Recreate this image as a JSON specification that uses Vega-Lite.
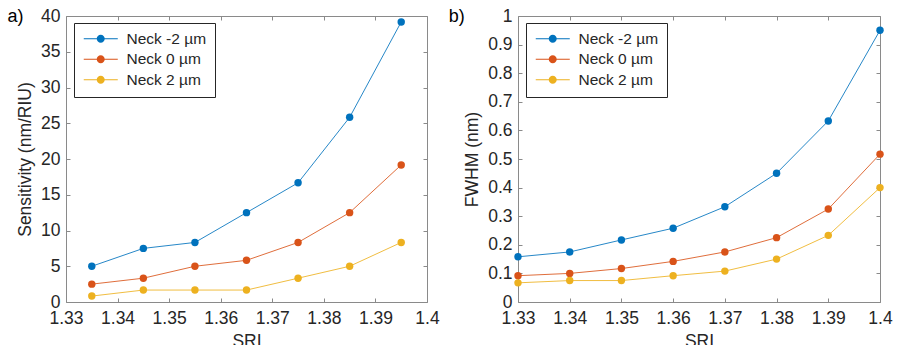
{
  "$schema": "https://vega.github.io/schema/vega-lite/v6.json",
  "padding": {"left": 7, "top": 6, "right": 0, "bottom": 0},
  "background": "white",
  "config": {
    "font": "Liberation Sans",
    "view": {"stroke": "#8a8a8a", "strokeWidth": 1},
    "axis": {
      "domain": false,
      "grid": false,
      "tickColor": "#8a8a8a",
      "tickSize": -4,
      "labelFontSize": 17.5,
      "labelColor": "#262626",
      "titleFontSize": 17.5,
      "titleFontWeight": "normal",
      "titleColor": "#262626"
    },
    "axisX": {"labelPadding": 11, "titlePadding": 6},
    "axisY": {"labelPadding": 10, "titlePadding": 6},
    "legend": {
      "orient": "none",
      "legendX": 8,
      "legendY": 7,
      "strokeColor": "#262626",
      "fillColor": "white",
      "padding": 8,
      "symbolType": "M-1,-0.08H4.67V0.08H-1Z M2.5,0A0.67,0.67,0,1,1,1.16,0A0.67,0.67,0,1,1,2.5,0Z",
      "symbolSize": 144,
      "symbolStrokeWidth": 0,
      "symbolOpacity": 1,
      "labelOffset": 29,
      "labelFontSize": 15.5,
      "labelColor": "#262626",
      "rowPadding": 3.5
    },
    "title": {
      "fontSize": 18,
      "fontWeight": "normal",
      "color": "#000000",
      "anchor": "start",
      "frame": "bounds",
      "offset": -19
    }
  },
  "datasets": {
    "sensitivity": [
      {"sri": 1.335, "series": "Neck -2 µm", "value": 5},
      {"sri": 1.345, "series": "Neck -2 µm", "value": 7.5},
      {"sri": 1.355, "series": "Neck -2 µm", "value": 8.33},
      {"sri": 1.365, "series": "Neck -2 µm", "value": 12.5},
      {"sri": 1.375, "series": "Neck -2 µm", "value": 16.67},
      {"sri": 1.385, "series": "Neck -2 µm", "value": 25.83},
      {"sri": 1.395, "series": "Neck -2 µm", "value": 39.17},
      {"sri": 1.335, "series": "Neck 0 µm", "value": 2.5},
      {"sri": 1.345, "series": "Neck 0 µm", "value": 3.33},
      {"sri": 1.355, "series": "Neck 0 µm", "value": 5},
      {"sri": 1.365, "series": "Neck 0 µm", "value": 5.83},
      {"sri": 1.375, "series": "Neck 0 µm", "value": 8.33},
      {"sri": 1.385, "series": "Neck 0 µm", "value": 12.5},
      {"sri": 1.395, "series": "Neck 0 µm", "value": 19.17},
      {"sri": 1.335, "series": "Neck 2 µm", "value": 0.83},
      {"sri": 1.345, "series": "Neck 2 µm", "value": 1.67},
      {"sri": 1.355, "series": "Neck 2 µm", "value": 1.67},
      {"sri": 1.365, "series": "Neck 2 µm", "value": 1.67},
      {"sri": 1.375, "series": "Neck 2 µm", "value": 3.33},
      {"sri": 1.385, "series": "Neck 2 µm", "value": 5},
      {"sri": 1.395, "series": "Neck 2 µm", "value": 8.33}
    ],
    "fwhm": [
      {"sri": 1.33, "series": "Neck -2 µm", "value": 0.158},
      {"sri": 1.34, "series": "Neck -2 µm", "value": 0.175},
      {"sri": 1.35, "series": "Neck -2 µm", "value": 0.217},
      {"sri": 1.36, "series": "Neck -2 µm", "value": 0.258},
      {"sri": 1.37, "series": "Neck -2 µm", "value": 0.333},
      {"sri": 1.38, "series": "Neck -2 µm", "value": 0.45},
      {"sri": 1.39, "series": "Neck -2 µm", "value": 0.633},
      {"sri": 1.4, "series": "Neck -2 µm", "value": 0.95},
      {"sri": 1.33, "series": "Neck 0 µm", "value": 0.092},
      {"sri": 1.34, "series": "Neck 0 µm", "value": 0.1},
      {"sri": 1.35, "series": "Neck 0 µm", "value": 0.117},
      {"sri": 1.36, "series": "Neck 0 µm", "value": 0.142},
      {"sri": 1.37, "series": "Neck 0 µm", "value": 0.175},
      {"sri": 1.38, "series": "Neck 0 µm", "value": 0.225},
      {"sri": 1.39, "series": "Neck 0 µm", "value": 0.325},
      {"sri": 1.4, "series": "Neck 0 µm", "value": 0.517},
      {"sri": 1.33, "series": "Neck 2 µm", "value": 0.067},
      {"sri": 1.34, "series": "Neck 2 µm", "value": 0.075},
      {"sri": 1.35, "series": "Neck 2 µm", "value": 0.075},
      {"sri": 1.36, "series": "Neck 2 µm", "value": 0.092},
      {"sri": 1.37, "series": "Neck 2 µm", "value": 0.108},
      {"sri": 1.38, "series": "Neck 2 µm", "value": 0.15},
      {"sri": 1.39, "series": "Neck 2 µm", "value": 0.233},
      {"sri": 1.4, "series": "Neck 2 µm", "value": 0.4}
    ]
  },
  "spacing": 8,
  "resolve": {"scale": {"color": "independent"}, "legend": {"color": "independent"}},
  "hconcat": [
    {
      "title": {"text": "a)", "dx": -9},
      "width": 361,
      "height": 286,
      "data": {"name": "sensitivity"},
      "layer": [
        {
          "mark": {"type": "point", "opacity": 0},
          "encoding": {
            "x": {"field": "sri", "type": "quantitative",
                  "scale": {"domain": [1.33, 1.4], "nice": false, "zero": false},
                  "axis": {"orient": "top", "labels": false, "title": null, "values": [1.33, 1.34, 1.35, 1.36, 1.37, 1.38, 1.39, 1.4]}},
            "y": {"field": "value", "type": "quantitative",
                  "scale": {"domain": [0, 40], "nice": false},
                  "axis": {"orient": "right", "labels": false, "title": null, "values": [0, 5, 10, 15, 20, 25, 30, 35, 40]}}
          }
        },
        {
          "encoding": {
            "x": {"field": "sri", "type": "quantitative", "title": "SRI",
                  "scale": {"domain": [1.33, 1.4], "nice": false, "zero": false},
                  "axis": {"orient": "bottom", "values": [1.33, 1.34, 1.35, 1.36, 1.37, 1.38, 1.39, 1.4], "labelExpr": "format(datum.value, '.2~f')", "labelFlush": false}},
            "y": {"field": "value", "type": "quantitative", "title": "Sensitivity (nm/RIU)",
                  "scale": {"domain": [0, 40], "nice": false},
                  "axis": {"orient": "left", "values": [0, 5, 10, 15, 20, 25, 30, 35, 40]}},
            "color": {"field": "series", "type": "nominal", "legend": {"title": null},
                      "scale": {"domain": ["Neck -2 µm", "Neck 0 µm", "Neck 2 µm"], "range": ["#0072BD", "#D95319", "#EDB120"]}}
          },
          "layer": [
            {"mark": {"type": "point", "filled": true, "size": 55, "opacity": 1}},
            {"mark": {"type": "line", "strokeWidth": 1, "opacity": 0.85}}
          ]
        }
      ]
    },
    {
      "title": {"text": "b)", "dx": -15},
      "width": 362,
      "height": 286,
      "data": {"name": "fwhm"},
      "layer": [
        {
          "mark": {"type": "point", "opacity": 0},
          "encoding": {
            "x": {"field": "sri", "type": "quantitative",
                  "scale": {"domain": [1.33, 1.4], "nice": false, "zero": false},
                  "axis": {"orient": "top", "labels": false, "title": null, "values": [1.33, 1.34, 1.35, 1.36, 1.37, 1.38, 1.39, 1.4]}},
            "y": {"field": "value", "type": "quantitative",
                  "scale": {"domain": [0, 1], "nice": false},
                  "axis": {"orient": "right", "labels": false, "title": null, "values": [0, 0.1, 0.2, 0.3, 0.4, 0.5, 0.6, 0.7, 0.8, 0.9, 1]}}
          }
        },
        {
          "encoding": {
            "x": {"field": "sri", "type": "quantitative", "title": "SRI",
                  "scale": {"domain": [1.33, 1.4], "nice": false, "zero": false},
                  "axis": {"orient": "bottom", "values": [1.33, 1.34, 1.35, 1.36, 1.37, 1.38, 1.39, 1.4], "labelExpr": "format(datum.value, '.2~f')", "labelFlush": false}},
            "y": {"field": "value", "type": "quantitative", "title": "FWHM (nm)",
                  "scale": {"domain": [0, 1], "nice": false},
                  "axis": {"orient": "left", "values": [0, 0.1, 0.2, 0.3, 0.4, 0.5, 0.6, 0.7, 0.8, 0.9, 1], "labelExpr": "format(datum.value, '.1~f')"}},
            "color": {"field": "series", "type": "nominal", "legend": {"title": null},
                      "scale": {"domain": ["Neck -2 µm", "Neck 0 µm", "Neck 2 µm"], "range": ["#0072BD", "#D95319", "#EDB120"]}}
          },
          "layer": [
            {"mark": {"type": "point", "filled": true, "size": 55, "opacity": 1}},
            {"mark": {"type": "line", "strokeWidth": 1, "opacity": 0.85}}
          ]
        }
      ]
    }
  ]
}
